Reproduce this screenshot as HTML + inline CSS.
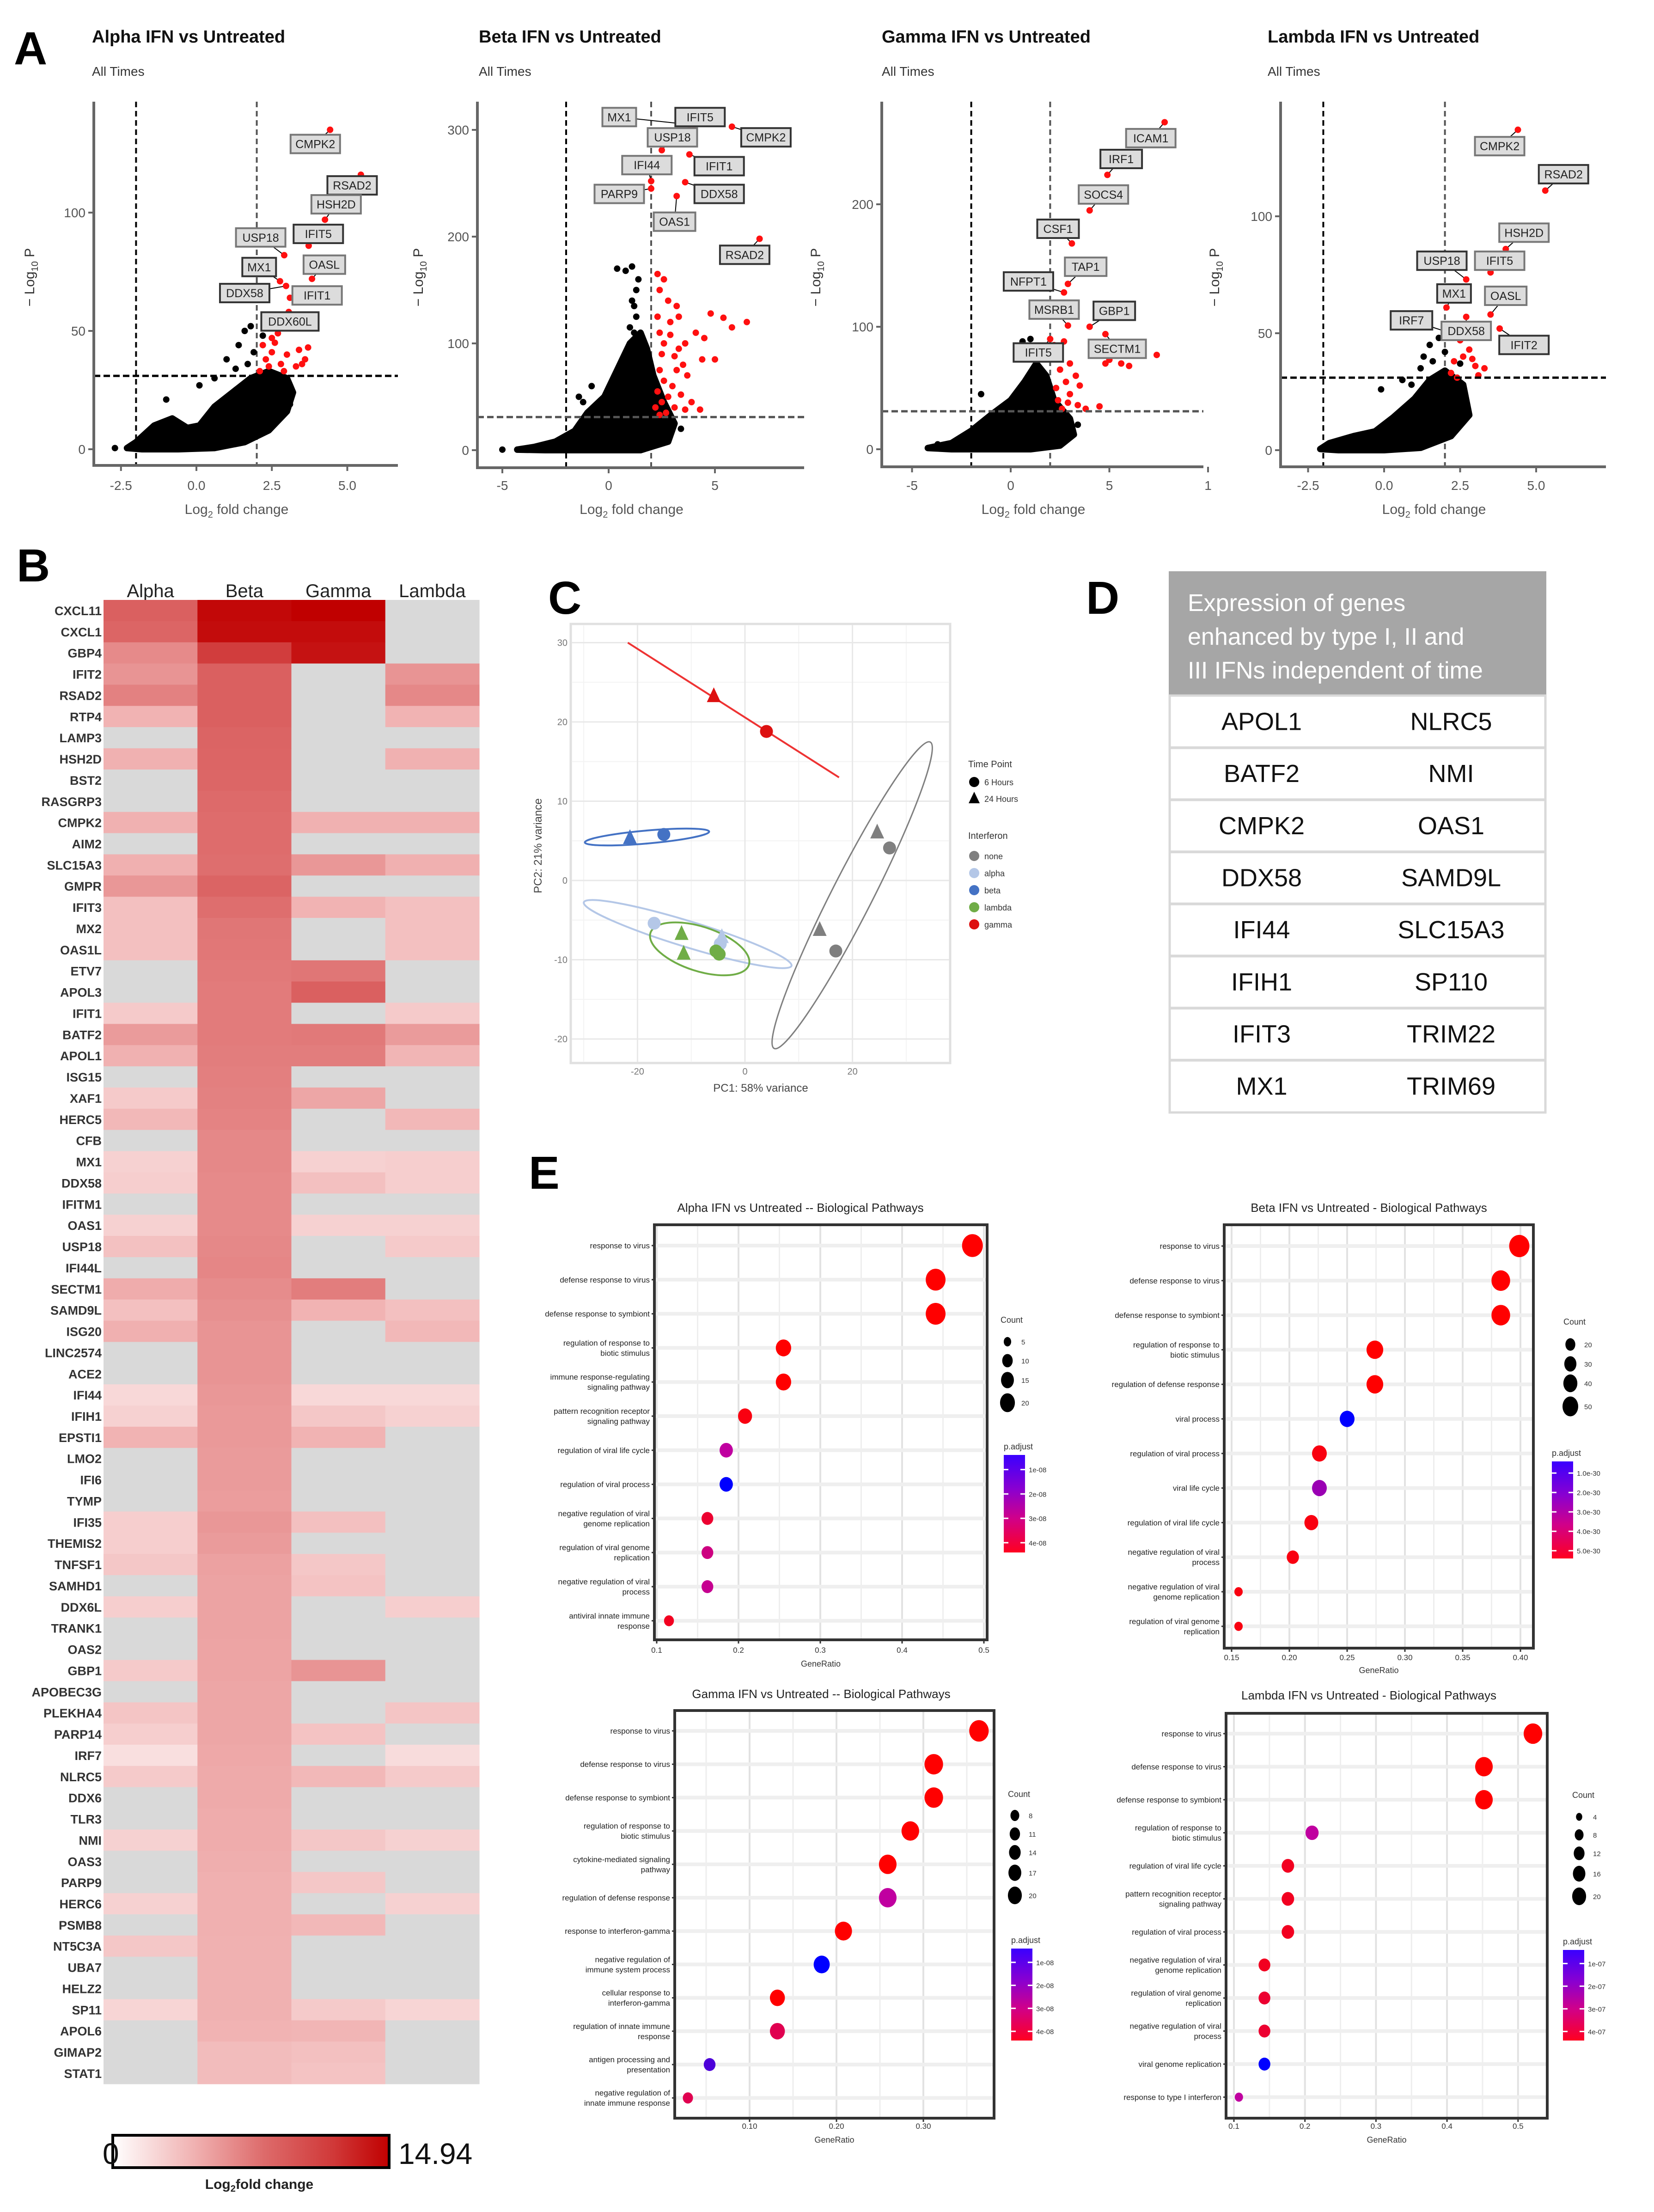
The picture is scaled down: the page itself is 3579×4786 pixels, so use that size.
<!DOCTYPE html>
<html><head><meta charset="utf-8">
<style>html,body{margin:0;padding:0;background:#fff}svg{display:block}text{font-family:"Liberation Sans",sans-serif}</style>
</head><body>
<svg id="fig" width="3579" height="4786" viewBox="0 0 3579 4786" xmlns="http://www.w3.org/2000/svg"></svg>
<script>
// ================= DATA =================
// Panel A volcano data: [log2FC, -log10P]
const alphaCloud=[[-2.3,0.5],[-2,3],[-1.4,10],[-0.8,13],[-0.3,9],[0.1,10],[0.6,18],[1.2,24],[1.8,30],[2.4,33],[3.0,30],[3.2,24],[3.0,16],[2.4,8],[1.6,3],[0.6,0.5],[-0.6,0],[-1.8,0]];
const alphaBlack=[[1.7,36],[1.9,41],[1.4,44],[2.2,48],[1.3,34],[0.6,30],[0.1,27],[3.1,19],[1.6,50],[1.0,38],[1.8,52],[-1.0,21],[-2.7,0.5]];
const alphaRed=[[2.1,33],[2.3,38],[2.5,41],[2.6,45],[2.8,36],[3.0,40],[2.4,35],[3.4,42],[3.6,38],[3.3,35],[2.7,49],[2.2,44],[3.5,36],[2.9,33],[3.7,43],[2.5,47]];
const alphaGenes=[["CMPK2",4.43,135,3.94,129],["RSAD2",5.45,116,5.16,111.5],["HSH2D",4.26,97,4.63,103.5],["IFIT5",3.72,86,4.04,91],["USP18",2.91,82,2.13,89.5],["MX1",2.77,71,2.08,77],["OASL",3.83,72,4.24,78],["DDX58",2.97,69,1.6,66],["IFIT1",3.1,64,4.0,65],["DDX60L",3.06,58,3.1,54]];
const betaCloud=[[-4.3,0.5],[-3.5,3],[-2.5,8],[-1.6,18],[-1,35],[-0.2,50],[0.4,75],[1.0,100],[1.5,110],[1.8,95],[2.1,70],[2.6,45],[3.1,25],[2.8,8],[1.5,0],[-3,0]];
const betaBlack=[[1.2,110],[1.3,125],[1.1,140],[1.4,160],[0.4,170],[0.8,168],[1.1,172],[1.3,150],[-0.8,60],[-1.2,45],[1.0,115],[1.2,135],[-1.4,50],[-5.0,0.5],[3.4,20]];
const betaRed=[[2.3,165],[2.6,160],[2.4,150],[2.8,140],[3.2,135],[2.3,125],[3.3,125],[2.4,110],[2.9,108],[3.6,100],[2.6,100],[4.1,110],[4.5,105],[5.8,115],[6.5,120],[2.5,90],[3.1,88],[3.5,80],[2.4,75],[3.2,75],[3.7,70],[2.6,65],[3.0,60],[2.3,55],[2.8,50],[3.4,52],[3.9,45],[2.5,45],[2.2,40],[3.1,40],[3.6,38],[2.7,35],[4.3,38],[2.4,33],[5.0,85],[4.4,85],[3.3,95],[2.9,120],[4.8,128],[5.4,124]];
const betaGenes=[["MX1",3.8,305,0.5,312],["IFIT5",4.0,300,4.3,312],["USP18",2.5,281,3.0,293],["CMPK2",5.8,303,7.4,293],["IFI44",2.0,252,1.8,267],["IFIT1",3.8,277,5.2,266],["PARP9",2.0,245,0.5,240],["DDX58",3.6,251,5.2,240],["OAS1",3.2,238,3.1,214],["RSAD2",7.1,198,6.4,183]];
const gammaCloud=[[-4.2,1],[-3,5],[-2,15],[-1,28],[0,40],[0.7,55],[1.3,70],[1.8,60],[2.2,40],[3,25],[3.2,12],[2.5,3],[1,0],[-3,0]];
const gammaBlack=[[0.6,88],[1.0,90],[0.8,75],[1.5,80],[-1.5,45],[3.0,12],[3.4,20],[-3.7,4]];
const gammaRed=[[2.2,85],[2.7,88],[2.4,75],[3.0,70],[2.5,65],[3.3,60],[2.8,55],[2.3,50],[3.5,52],[3.0,45],[2.4,40],[2.9,38],[3.4,36],[4.5,35],[5.0,73],[5.6,70],[6.0,68],[4.8,70],[7.4,77],[2.6,33],[3.8,33],[4.2,78]];
const gammaGenes=[["ICAM1",7.8,267,7.1,254],["IRF1",4.9,224,5.6,237],["SOCS4",4.0,195,4.7,208],["CSF1",3.1,168,2.4,180],["TAP1",2.9,135,3.8,149],["NFPT1",2.7,128,0.9,137],["MSRB1",2.9,101,2.2,114],["GBP1",4.0,100,5.25,113],["SECTM1",4.8,94,5.4,82],["IFIT5",2.0,90,1.4,79]];
const lambdaCloud=[[-2.1,0.5],[-1.8,3],[-1,6],[-0.3,8],[0.3,14],[1,22],[1.5,30],[2,34],[2.6,28],[2.8,15],[2.2,6],[1.2,1],[0,0],[-1.5,0]];
const lambdaBlack=[[0.6,30],[1.3,40],[1.5,45],[1.8,48],[1.2,35],[2.0,42],[-0.1,26],[2.5,37],[0.9,28],[1.6,38]];
const lambdaRed=[[2.3,38],[2.6,40],[3.0,36],[3.3,35],[2.8,43],[2.5,47],[2.2,33],[3.1,32],[2.4,31],[2.9,39]];
const lambdaGenes=[["CMPK2",4.4,137,3.8,130],["RSAD2",5.3,111,5.9,118],["HSH2D",4.0,86,4.6,93],["USP18",2.7,73,1.9,81],["IFIT5",3.5,76,3.8,81],["MX1",2.05,61,2.3,67],["OASL",3.5,58,4.0,66],["IRF7",2.2,50,0.9,55.5],["DDX58",2.7,57,2.7,51],["IFIT2",3.8,52,4.6,45]];
const volcanoTitles=["Alpha IFN vs Untreated","Beta IFN vs Untreated","Gamma IFN vs Untreated","Lambda IFN vs Untreated"];
const alphaXTicks=[-2.5,0,2.5,5], alphaXLabels=["-2.5","0.0","2.5","5.0"], alphaYTicks=[0,50,100];
const betaXTicks=[-5,0,5], betaXLabels=["-5","0","5"], betaYTicks=[0,100,200,300];
const gammaXTicks=[-5,0,5,10], gammaXLabels=["-5","0","5","1"], gammaYTicks=[0,100,200];
const lambdaXTicks=[-2.5,0,2.5,5], lambdaXLabels=["-2.5","0.0","2.5","5.0"], lambdaYTicks=[0,50,100];
const fcCutoffs=[-2,2]; const pCutoff=31;

// Panel B heatmap
const heatGenes=["CXCL11","CXCL1","GBP4","IFIT2","RSAD2","RTP4","LAMP3","HSH2D","BST2","RASGRP3","CMPK2","AIM2","SLC15A3","GMPR","IFIT3","MX2","OAS1L","ETV7","APOL3","IFIT1","BATF2","APOL1","ISG15","XAF1","HERC5","CFB","MX1","DDX58","IFITM1","OAS1","USP18","IFI44L","SECTM1","SAMD9L","ISG20","LINC2574","ACE2","IFI44","IFIH1","EPSTI1","LMO2","IFI6","TYMP","IFI35","THEMIS2","TNFSF1","SAMHD1","DDX6L","TRANK1","OAS2","GBP1","APOBEC3G","PLEKHA4","PARP14","IRF7","NLRC5","DDX6","TLR3","NMI","OAS3","PARP9","HERC6","PSMB8","NT5C3A","UBA7","HELZ2","SP11","APOL6","GIMAP2","STAT1"];
const heatColumns=["Alpha","Beta","Gamma","Lambda"];
const alphaLFC=[9,8.6,6.5,6,7,4.3,0,4.4,0,0,4.4,0,4.5,5.8,3.6,3.6,3.6,0,0,3.0,5.6,4.4,0,3.0,4.0,0,2.6,2.8,0,2.6,3.5,0,4.7,3.6,4.5,0,0,2.2,2.6,4.3,0,0,0,2.8,2.8,3.2,0,2.8,0,0,3.0,0,3.3,2.8,1.8,3.0,0,0,2.6,0,0,2.6,0,3.2,0,0,2.4,0,0,0];
const betaLFC=[14.5,14.3,11.6,9,9,9,8.7,8.6,8.5,8.2,8.1,8.1,8.0,8.7,8.0,7.6,7.5,7.4,7.3,7.3,7.3,7.2,7.1,7.0,6.9,6.6,6.6,6.5,6.5,6.5,6.6,6.7,6.4,6.2,6.0,6.0,6.0,5.8,5.7,5.7,5.6,5.6,5.5,5.8,5.6,5.3,5.2,5.2,5.2,5.1,5.1,5.0,5.0,5.0,4.9,4.8,4.8,4.7,4.7,4.6,4.5,4.5,4.5,4.4,4.4,4.4,4.4,4.3,3.8,3.8];
const gammaLFC=[14.94,14.3,14,0,0,0,0,0,0,0,4.4,0,5.8,0,4.3,0,0,7.6,9.0,0,7.4,7.2,0,5.0,0,0,2.6,3.6,0,2.6,0,0,7.2,4.3,0,0,0,2.2,3.2,4.3,0,0,0,3.6,0,3.2,3.4,0,0,0,6.0,0,0,3.4,0,4.0,0,0,3.2,0,3.2,0,4.0,0,0,0,3.0,4.2,3.6,3.4];
const lambdaLFC=[0,0,0,6,6.6,4.3,0,4.4,0,0,4.4,0,4.5,0,3.6,3.6,3.6,0,0,3.0,5.6,4.2,0,0,4.0,0,2.8,2.8,0,2.6,3.0,0,0,3.6,4.0,0,0,2.2,2.6,0,0,0,0,0,0,0,0,2.8,0,0,0,0,3.3,0,2.0,3.0,0,0,2.6,0,0,2.6,0,0,0,0,2.4,0,0,0];
const heatMax=14.94;

// Panel C PCA
const pcaInterferon=["gamma","gamma","beta","beta","alpha","alpha","alpha","lambda","lambda","lambda","lambda","none","none","none","none"];
const pcaTime=["24","6","24","6","6","24","6","24","24","6","6","24","6","24","6"];
const pc1=[-5.8,4.0,-21.4,-15.1,-16.9,-4.3,-4.6,-11.8,-11.4,-5.4,-4.8,24.6,26.9,13.9,16.9];
const pc2=[23.2,18.8,5.3,5.8,-5.4,-7.2,-8.0,-6.8,-9.3,-8.9,-9.3,6.0,4.1,-6.3,-8.9];
const pcaXTicks=[-20,0,20], pcaYTicks=[-20,-10,0,10,20,30];

// Panel D
const tableLeft=["APOL1","BATF2","CMPK2","DDX58","IFI44","IFIH1","IFIT3","MX1"];
const tableRight=["NLRC5","NMI","OAS1","SAMD9L","SLC15A3","SP110","TRIM22","TRIM69"];

// Panel E dot plots
const alphaTerms=["response to virus","defense response to virus","defense response to symbiont","regulation of response to\nbiotic stimulus","immune response-regulating\nsignaling pathway","pattern recognition receptor\nsignaling pathway","regulation of viral life cycle","regulation of viral process","negative regulation of viral\ngenome replication","regulation of viral genome\nreplication","negative regulation of viral\nprocess","antiviral innate immune\nresponse"];
const alphaRatio=[0.486,0.441,0.441,0.255,0.255,0.208,0.185,0.185,0.162,0.162,0.162,0.115];
const alphaCount=[22,20,20,12,12,10,9,9,7,7,7,5];
const alphaPadj=[0,0,0,0,0,0.05,0.5,1,0.15,0.4,0.45,0.1];
const betaTerms=["response to virus","defense response to virus","defense response to symbiont","regulation of response to\nbiotic stimulus","regulation of defense response","viral process","regulation of viral process","viral life cycle","regulation of viral life cycle","negative regulation of viral\nprocess","negative regulation of viral\ngenome replication","regulation of viral genome\nreplication"];
const betaRatio=[0.399,0.383,0.383,0.274,0.274,0.250,0.226,0.226,0.219,0.203,0.156,0.156];
const betaCount=[47,40,40,32,32,25,25,25,22,17,8,8];
const betaPadj=[0,0,0,0,0,1,0.05,0.6,0.05,0.05,0.05,0.05];
const gammaTerms=["response to virus","defense response to virus","defense response to symbiont","regulation of response to\nbiotic stimulus","cytokine-mediated signaling\npathway","regulation of defense response","response to interferon-gamma","negative regulation of\nimmune system process","cellular response to\ninterferon-gamma","regulation of innate immune\nresponse","antigen processing and\npresentation","negative regulation of\ninnate immune response"];
const gammaRatio=[0.364,0.312,0.312,0.285,0.259,0.259,0.208,0.183,0.132,0.132,0.054,0.029];
const gammaCount=[22,20,20,18,18,18,17,15,13,13,8,6];
const gammaPadj=[0,0,0,0,0,0.5,0,1,0,0.25,0.8,0.25];
const lambdaTerms=["response to virus","defense response to virus","defense response to symbiont","regulation of response to\nbiotic stimulus","regulation of viral life cycle","pattern recognition receptor\nsignaling pathway","regulation of viral process","negative regulation of viral\ngenome replication","regulation of viral genome\nreplication","negative regulation of viral\nprocess","viral genome replication","response to type I interferon"];
const lambdaRatio=[0.521,0.452,0.452,0.210,0.176,0.176,0.176,0.143,0.143,0.143,0.143,0.107];
const lambdaCount=[20,18,18,10,9,9,9,8,8,8,8,4];
const lambdaPadj=[0,0,0,0.5,0.1,0.1,0.1,0.1,0.15,0.15,1,0.5];
const alphaCountLegend=[5,10,15,20], betaCountLegend=[20,30,40,50], gammaCountLegend=[8,11,14,17,20], lambdaCountLegend=[4,8,12,16,20];
const alphaPadjLabels=["1e-08","2e-08","3e-08","4e-08"], betaPadjLabels=["1.0e-30","2.0e-30","3.0e-30","4.0e-30","5.0e-30"], gammaPadjLabels=["1e-08","2e-08","3e-08","4e-08"], lambdaPadjLabels=["1e-07","2e-07","3e-07","4e-07"];

// ================= DRAWING =================
const NS="http://www.w3.org/2000/svg";
const svg=document.getElementById("fig");
function mk(tag,attrs,parent){const e=document.createElementNS(NS,tag);for(const k in attrs)e.setAttribute(k,attrs[k]);(parent||svg).appendChild(e);return e;}
function tx(str,attrs,parent){const e=mk("text",attrs,parent);e.textContent=str;return e;}

// defs
const defs=mk("defs",{});
const hg=mk("linearGradient",{id:"heatgrad",x1:"0",x2:"1",y1:"0",y2:"0"},defs);
const heatStops=[[0,[255,255,255]],[0.3,[240,176,176]],[0.55,[221,106,106]],[0.8,[208,56,56]],[1,[192,0,0]]];
heatStops.forEach(s=>mk("stop",{offset:s[0],"stop-color":"rgb("+s[1].join(",")+")"},hg));
const pg=mk("linearGradient",{id:"padjgrad",x1:"0",x2:"0",y1:"0",y2:"1"},defs);
[[0,"#3a00ff"],[0.35,"#8a00d0"],[0.65,"#d0008a"],[1,"#ff0020"]].forEach(s=>mk("stop",{offset:s[0],"stop-color":s[1]},pg));

function heatColor(v){
  if(!v) return "#d9d9d9";
  const t=Math.min(1,v/heatMax);
  for(let i=1;i<heatStops.length;i++){if(t<=heatStops[i][0]){const a=heatStops[i-1],b=heatStops[i];const f=(t-a[0])/(b[0]-a[0]);return "rgb("+a[1].map((c,j)=>Math.round(c+(b[1][j]-c)*f)).join(",")+")";}}
  return "rgb(192,0,0)";
}
function padjColor(t){
  const a=[255,0,0],m=[192,0,160],b=[0,0,255];
  let c;if(t<=0.5){const f=t/0.5;c=a.map((x,i)=>Math.round(x+(m[i]-x)*f));}else{const f=(t-0.5)/0.5;c=m.map((x,i)=>Math.round(x+(b[i]-x)*f));}
  return "rgb("+c.join(",")+")";
}

// Panel letters
[["A",30,139],["B",36,1258],["C",1186,1328],["D",2350,1328],["E",1144,2572]].forEach(L=>{
  const t=tx(L[0],{x:L[1],y:L[2],"font-size":100,"font-weight":"bold",fill:"#000"});
  
  
});

// ===== Panel A =====
const vLayout=[
 {x0:425,kx:65.3,y0:972,ky:5.12,left:203,right:861,top:220,bottom:1007,ylab:64,tx:199},
 {x0:1317,kx:46,y0:974,ky:2.31,left:1033,right:1740,top:220,bottom:1012,ylab:905,tx:1036},
 {x0:2187,kx:42.7,y0:972,ky:2.65,left:1908,right:2604,top:220,bottom:1010,ylab:1765,tx:1908},
 {x0:2995,kx:65.8,y0:974,ky:5.06,left:2771,right:3475,top:220,bottom:1010,ylab:2628,tx:2743}];
const vData=[[alphaCloud,alphaBlack,alphaRed,alphaGenes,alphaXTicks,alphaXLabels,alphaYTicks],[betaCloud,betaBlack,betaRed,betaGenes,betaXTicks,betaXLabels,betaYTicks],[gammaCloud,gammaBlack,gammaRed,gammaGenes,gammaXTicks,gammaXLabels,gammaYTicks],[lambdaCloud,lambdaBlack,lambdaRed,lambdaGenes,lambdaXTicks,lambdaXLabels,lambdaYTicks]];
const vNames=["alpha","beta","gamma","lambda"];
vData.forEach((D,i)=>{
  const L=vLayout[i];
  const X=v=>L.x0+L.kx*v, Y=v=>L.y0-L.ky*v;
  const g=mk("g",{});
  
  
  const t1=tx(volcanoTitles[i],{x:L.tx,y:92,"font-size":38,"font-weight":"bold",fill:"#111"},g);
  
  
  const t2=tx("All Times",{x:L.tx,y:164,"font-size":28,fill:"#333"},g);
  
  
  // cutoffs
  fcCutoffs.forEach(c=>{const l=mk("line",{x1:X(c),x2:X(c),y1:L.top,y2:L.bottom,stroke:c<0?"#000":"#555","stroke-width":4,"stroke-dasharray":"12,8"},g);
    
    });
  // cloud
  const cl=mk("polygon",{points:D[0].map(p=>X(p[0])+","+Y(p[1])).join(" "),fill:"#000",stroke:"#000","stroke-width":14,"stroke-linejoin":"round"},g);
  
  
  D[1].forEach(p=>{const c=mk("circle",{cx:X(p[0]),cy:Y(p[1]),r:7,fill:"#000"},g);
    
    });
  D[2].forEach(p=>{const c=mk("circle",{cx:X(p[0]),cy:Y(p[1]),r:7,fill:"#ff1010"},g);
    
    });
  const hl=mk("line",{x1:L.left,x2:L.right,y1:Y(pCutoff),y2:Y(pCutoff),stroke:i==1||i==2?"#555":"#000","stroke-width":5,"stroke-dasharray":"14,7"},g);
  
  
  // labelled genes
  D[3].forEach((gn,k)=>{
    const px=X(gn[1]),py=Y(gn[2]),lx=X(gn[3]),ly=Y(gn[4]);
    const w=gn[0].length*17+22,h=40;
    mk("line",{x1:px,y1:py,x2:lx,y2:ly,stroke:"#000","stroke-width":2},g);
    const c=mk("circle",{cx:px,cy:py,r:7,fill:"#ff1010"},g);
    
    
    const b=mk("rect",{x:lx-w/2,y:ly-h/2,width:w,height:h,fill:"#dcdcdc",stroke:k%2?"#333":"#777","stroke-width":4},g);
    
    
    const t=tx(gn[0],{x:lx,y:ly+9,"font-size":25,"text-anchor":"middle",fill:"#222"},g);
    
    
  });
  // axes
  const ax=mk("path",{d:"M"+L.left+","+L.top+" V"+L.bottom+" H"+L.right,fill:"none",stroke:"#666","stroke-width":6},g);
  
  
  D[4].forEach((v,k)=>{mk("line",{x1:X(v),x2:X(v),y1:L.bottom,y2:L.bottom+12,stroke:"#666","stroke-width":4},g);
    const t=tx(D[5][k],{x:X(v),y:1060,"font-size":28,"text-anchor":"middle",fill:"#555"},g);
    
    });
  D[6].forEach(v=>{mk("line",{x1:L.left-12,x2:L.left,y1:Y(v),y2:Y(v),stroke:"#666","stroke-width":4},g);
    const t=tx(String(v),{x:L.left-18,y:Y(v)+10,"font-size":28,"text-anchor":"end",fill:"#555"},g);
    
    });
  const xt=tx("",{x:(L.left+L.right)/2-20,y:1112,"font-size":30,"text-anchor":"middle",fill:"#555"},g);
  xt.innerHTML='Log<tspan font-size="20" dy="8">2</tspan><tspan dy="-8"> fold change</tspan>';
  
  
  const yt=tx("",{x:0,y:0,"font-size":30,"text-anchor":"middle",fill:"#333",transform:"translate("+(L.ylab+10)+",600) rotate(-90)"},g);
  yt.innerHTML='− Log<tspan font-size="20" dy="8">10</tspan><tspan dy="-8"> P</tspan>';
  
  
});

// ===== Panel B heatmap =====
const hmLeft=224,hmTop=1298,colW=203.25,rowH=45.87;
const hm=mk("g",{});


const heatSeries=[alphaLFC,betaLFC,gammaLFC,lambdaLFC];
heatColumns.forEach((c,j)=>{const t=tx(c,{x:hmLeft+colW*(j+0.5),y:1292,"font-size":40,"text-anchor":"middle",fill:"#222"},hm);
  
  });
heatGenes.forEach((gname,r)=>{
  const t=tx(gname,{x:hmLeft-4,y:hmTop+rowH*(r+0.5)+10,"font-size":27,"font-weight":"bold","text-anchor":"end",fill:"#333"},hm);
  
  
  heatSeries.forEach((s,j)=>{
    const cell=mk("rect",{x:hmLeft+colW*j,y:hmTop+rowH*r,width:colW+0.6,height:rowH+0.6,fill:heatColor(s[r])},hm);
    
    
  });
});
const cb=mk("rect",{x:244,y:4620,width:598,height:70,fill:"url(#heatgrad)",stroke:"#000","stroke-width":6});


const cb0=tx("0",{x:222,y:4682,"font-size":64,fill:"#111"});


const cb1=tx(String(heatMax),{x:862,y:4682,"font-size":64,fill:"#111"});


const cbt=tx("",{x:561,y:4736,"font-size":30,"font-weight":"bold","text-anchor":"middle",fill:"#222"});
cbt.innerHTML='Log<tspan font-size="20" dy="6">2</tspan><tspan dy="-6">fold change</tspan>';



// ===== Panel C PCA =====
const PX=v=>1612+11.63*v, PY=v=>1905-17.15*v;
const pca=mk("g",{});


mk("rect",{x:1235,y:1350,width:821,height:950,fill:"#fff",stroke:"#e0e0e0","stroke-width":5},pca);
[-25,-15,-5,5,15,25].forEach(v=>{if(PY(v)>1352&&PY(v)<2298)mk("line",{x1:1237,x2:2054,y1:PY(v),y2:PY(v),stroke:"#f3f3f3","stroke-width":2},pca);});
[-30,-10,10,30].forEach(v=>{if(PX(v)>1237&&PX(v)<2054)mk("line",{y1:1352,y2:2298,x1:PX(v),x2:PX(v),stroke:"#f3f3f3","stroke-width":2},pca);});
pcaYTicks.forEach(v=>{mk("line",{x1:1237,x2:2054,y1:PY(v),y2:PY(v),stroke:"#e8e8e8","stroke-width":3},pca);
  const t=tx(String(v),{x:1228,y:PY(v)+7,"font-size":20,"text-anchor":"end",fill:"#777"},pca);
  
  });
pcaXTicks.forEach(v=>{mk("line",{y1:1352,y2:2298,x1:PX(v),x2:PX(v),stroke:"#e8e8e8","stroke-width":3},pca);
  const t=tx(String(v),{x:PX(v),y:2325,"font-size":20,"text-anchor":"middle",fill:"#777"},pca);
  
  });
const pxt=tx("PC1: 58% variance",{x:1646,y:2362,"font-size":24,"text-anchor":"middle",fill:"#444"},pca);


const pyt=tx("PC2: 21% variance",{x:0,y:0,"font-size":24,"text-anchor":"middle",fill:"#444",transform:"translate(1172,1830) rotate(-90)"},pca);


const ifnColor={none:"#7f7f7f",alpha:"#b4c7e7",beta:"#4472c4",lambda:"#70ad47",gamma:"#dd1111"};
// ellipses (confidence regions)
[[1400,1811,135,14,-5,"beta"],[1488,2021,235,28,17,"alpha"],[1514,2053,112,48,18,"lambda"],[1844,1937,372,44,-63,"none"]].forEach(e=>{
  const el=mk("ellipse",{cx:e[0],cy:e[1],rx:e[2],ry:e[3],fill:"none",stroke:ifnColor[e[5]],"stroke-width":e[5]=="none"?3:4,transform:"rotate("+e[4]+" "+e[0]+" "+e[1]+")"},pca);
  
  
});
const gl=mk("line",{x1:PX(-21.8),y1:PY(30),x2:PX(17.5),y2:PY(13),stroke:"#e33","stroke-width":4},pca);


pc1.forEach((v,k)=>{
  const cx=PX(v),cy=PY(pc2[k]),col=ifnColor[pcaInterferon[k]];
  let m;
  if(pcaTime[k]=="24") m=mk("path",{d:"M"+cx+","+(cy-20)+" L"+(cx+15)+","+(cy+12)+" L"+(cx-15)+","+(cy+12)+"Z",fill:col},pca);
  else m=mk("circle",{cx:cx,cy:cy,r:14,fill:col},pca);
  
  
});
const lg=mk("g",{});


tx("Time Point",{x:2095,y:1660,"font-size":20,fill:"#333"},lg);
mk("circle",{cx:2108,cy:1692,r:11,fill:"#000"},lg);tx("6 Hours",{x:2130,y:1699,"font-size":18,fill:"#333"},lg);
mk("path",{d:"M2108,1713 L2120,1738 L2096,1738Z",fill:"#000"},lg);tx("24 Hours",{x:2130,y:1735,"font-size":18,fill:"#333"},lg);
tx("Interferon",{x:2095,y:1815,"font-size":20,fill:"#333"},lg);
["none","alpha","beta","lambda","gamma"].forEach((n,k)=>{mk("circle",{cx:2108,cy:1852+k*37,r:11,fill:ifnColor[n]},lg);
  const t=tx(n=="lambda"?"lambda":n,{x:2130,y:1859+k*37,"font-size":18,fill:"#333"},lg);
  
  });

// ===== Panel D table =====
const tb=mk("g",{});


mk("rect",{x:2529,y:1236,width:817,height:269,fill:"#a6a6a6"},tb);
["Expression of genes","enhanced by type I, II and","III IFNs independent of time"].forEach((s,k)=>{
  const t=tx(s,{x:2570,y:1322+k*73,"font-size":52,fill:"#fff"},tb);
  
  });
mk("rect",{x:2531,y:1505,width:813,height:902,fill:"#fff",stroke:"#d9d9d9","stroke-width":5},tb);
tableLeft.forEach((g,k)=>{
  const cy=1505+112.7*(k+0.5);
  if(k>0) mk("line",{x1:2531,x2:3344,y1:1505+112.7*k,y2:1505+112.7*k,stroke:"#d9d9d9","stroke-width":6},tb);
  const a=tx(g,{x:2730,y:cy+18,"font-size":54,"text-anchor":"middle",fill:"#111"},tb);
  
  
  const b=tx(tableRight[k],{x:3140,y:cy+18,"font-size":54,"text-anchor":"middle",fill:"#111"},tb);
  
  
});

// ===== Panel E dot plots =====
const eCfg=[
 {name:"alpha",title:"Alpha IFN vs Untreated -- Biological Pathways",tx:1732,ty:2622,bx:1416,by:2650,bw:720,bh:898,r0:0.1,x0:1421,kx:1770,row0:2695,step:73.8,k:4.8,ticks:[0.1,0.2,0.3,0.4,0.5],tlab:["0.1","0.2","0.3","0.4","0.5"],minor:[0.15,0.25,0.35,0.45],legX:2175,cntY:2862,circY:[2903,2944,2986,3035],barX:2172,barY:3148,barH:211,tickY:3576,xlabY:3606},
 {name:"beta",title:"Beta IFN vs Untreated - Biological Pathways",tx:2962,ty:2622,bx:2649,by:2650,bw:669,bh:916,r0:0.15,x0:2665,kx:2500,row0:2696,step:74.8,k:3.2,ticks:[0.15,0.2,0.25,0.3,0.35,0.4],tlab:["0.15","0.20","0.25","0.30","0.35","0.40"],minor:[0.175,0.225,0.275,0.325,0.375],legX:3393,cntY:2866,circY:[2909,2951,2993,3043],barX:3358,barY:3162,barH:210,tickY:3592,xlabY:3620},
 {name:"gamma",title:"Gamma IFN vs Untreated -- Biological Pathways",tx:1777,ty:3674,bx:1460,by:3701,bw:691,bh:882,r0:0.1,x0:1622,kx:1880,row0:3745,step:72.2,k:4.5,ticks:[0.1,0.2,0.3],tlab:["0.10","0.20","0.30"],minor:[0.05,0.15,0.25,0.35],legX:2191,cntY:3888,circY:[3928,3968,4008,4052,4101],barX:2188,barY:4216,barH:199,tickY:4606,xlabY:4636},
 {name:"lambda",title:"Lambda IFN vs Untreated - Biological Pathways",tx:2962,ty:3677,bx:2653,by:3707,bw:695,bh:876,r0:0.1,x0:2670,kx:1537,row0:3751,step:71.5,k:4.5,ticks:[0.1,0.2,0.3,0.4,0.5],tlab:["0.1","0.2","0.3","0.4","0.5"],minor:[0.15,0.25,0.35,0.45],legX:3412,cntY:3890,circY:[3931,3970,4010,4054,4103],barX:3382,barY:4219,barH:196,tickY:4606,xlabY:4636}];
const eData=[[alphaTerms,alphaRatio,alphaCount,alphaPadj,alphaCountLegend,alphaPadjLabels],[betaTerms,betaRatio,betaCount,betaPadj,betaCountLegend,betaPadjLabels],[gammaTerms,gammaRatio,gammaCount,gammaPadj,gammaCountLegend,gammaPadjLabels],[lambdaTerms,lambdaRatio,lambdaCount,lambdaPadj,lambdaCountLegend,lambdaPadjLabels]];
eCfg.forEach((C,i)=>{
  const D=eData[i];
  const X=v=>C.x0+(v-C.r0)*C.kx;
  const g=mk("g",{});
  
  
  const tt=tx(C.title,{x:C.tx,y:C.ty,"font-size":26,"text-anchor":"middle",fill:"#222"},g);
  
  
  mk("rect",{x:C.bx,y:C.by,width:C.bw,height:C.bh,fill:"#fff"},g);
  C.minor.forEach(v=>{if(X(v)>C.bx&&X(v)<C.bx+C.bw)mk("line",{x1:X(v),x2:X(v),y1:C.by,y2:C.by+C.bh,stroke:"#eeeeee","stroke-width":3},g);});
  C.ticks.forEach(v=>mk("line",{x1:X(v),x2:X(v),y1:C.by,y2:C.by+C.bh,stroke:"#e2e2e2","stroke-width":4},g));
  D[0].forEach((term,k)=>{
    const y=C.row0+k*C.step;
    mk("line",{x1:C.bx,x2:C.bx+C.bw,y1:y,y2:y,stroke:"#efefef","stroke-width":8},g);
    const lines=term.split("\n");
    lines.forEach((ln,j)=>{const t=tx(ln,{x:C.bx-10,y:y+6+(j-(lines.length-1)/2)*22,"font-size":17,"text-anchor":"end",fill:"#222"},g);
      
      });
    mk("line",{x1:C.bx-6,x2:C.bx,y1:y,y2:y,stroke:"#333","stroke-width":3},g);
  });
  D[1].forEach((v,k)=>{
    const d=mk("ellipse",{cx:X(v),cy:C.row0+k*C.step,rx:C.k*Math.sqrt(D[2][k]),ry:C.k*Math.sqrt(D[2][k])*1.1,fill:padjColor(D[3][k])},g);
    
    
  });
  const bx=mk("rect",{x:C.bx,y:C.by,width:C.bw,height:C.bh,fill:"none",stroke:"#333","stroke-width":6},g);
  
  
  C.ticks.forEach((v,k)=>{mk("line",{x1:X(v),x2:X(v),y1:C.by+C.bh,y2:C.by+C.bh+8,stroke:"#333","stroke-width":3},g);
    const t=tx(C.tlab[k],{x:X(v),y:C.tickY,"font-size":17,"text-anchor":"middle",fill:"#333"},g);
    
    });
  const xl=tx("GeneRatio",{x:C.bx+C.bw/2,y:C.xlabY,"font-size":18,"text-anchor":"middle",fill:"#333"},g);
  
  
  tx("Count",{x:C.legX-10,y:C.cntY,"font-size":18,fill:"#333"},g);
  D[4].forEach((c,k)=>{mk("ellipse",{cx:C.legX+5,cy:C.circY[k],rx:C.k*Math.sqrt(c)*0.75,ry:C.k*Math.sqrt(c)*0.95,fill:"#000"},g);
    const t=tx(String(c),{x:C.legX+35,y:C.circY[k]+6,"font-size":15,fill:"#333"},g);
    
    });
  tx("p.adjust",{x:C.barX,y:C.barY-12,"font-size":18,fill:"#333"},g);
  const pb=mk("rect",{x:C.barX,y:C.barY,width:46,height:C.barH,fill:"url(#padjgrad)"},g);
  
  
  D[5].forEach((s,k)=>{const yy=C.barY+C.barH*(k+0.6)/D[5].length;
    mk("line",{x1:C.barX,x2:C.barX+10,y1:yy,y2:yy,stroke:"#fff","stroke-width":3},g);
    mk("line",{x1:C.barX+36,x2:C.barX+46,y1:yy,y2:yy,stroke:"#fff","stroke-width":3},g);
    tx(s,{x:C.barX+54,y:yy+6,"font-size":15,fill:"#333"},g);});
});
</script>
</body></html>
